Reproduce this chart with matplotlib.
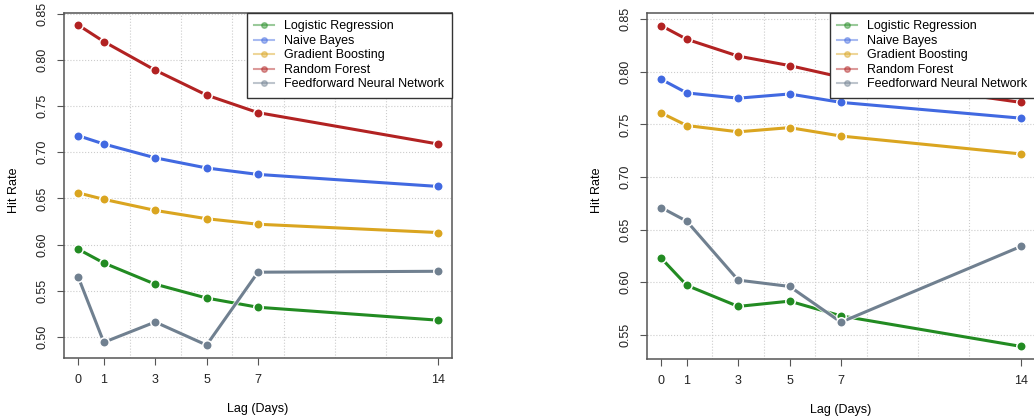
import numpy as np
import matplotlib.pyplot as plt
import matplotlib.patheffects as pe
from matplotlib.ticker import FixedLocator

plt.rcParams['font.family'] = ['Liberation Sans', 'DejaVu Sans']

# lags en dias
lags = [0, 1, 3, 5, 7, 14]

modelos = ["Logistic Regression", "Naive Bayes", "Gradient Boosting",
           "Random Forest", "Feedforward Neural Network"]
colores = ["#228B22", "#4169E1", "#DAA520", "#B22222", "#708090"]

# panel izquierdo
lr_izq = [0.595, 0.580, 0.557, 0.542, 0.532, 0.518]
nb_izq = [0.718, 0.709, 0.694, 0.683, 0.676, 0.663]
gb_izq = [0.656, 0.649, 0.637, 0.628, 0.622, 0.613]
rf_izq = [0.838, 0.820, 0.789, 0.762, 0.743, 0.709]
fnn_izq = [0.565, 0.494, 0.516, 0.491, 0.570, 0.571]

# panel derecho
lr_der = [0.623, 0.597, 0.577, 0.582, 0.568, 0.539]
nb_der = [0.793, 0.780, 0.775, 0.779, 0.771, 0.756]
gb_der = [0.761, 0.749, 0.743, 0.747, 0.739, 0.722]
rf_der = [0.844, 0.831, 0.815, 0.806, 0.795, 0.771]
fnn_der = [0.671, 0.658, 0.602, 0.596, 0.562, 0.634]

gris = "#555555"


def panel(ax, series, ylim, yticks):
    for nombre, y, c in zip(modelos, series, colores):
        ax.plot(lags, y, "-", color=c, lw=2.2, zorder=3,
                path_effects=[pe.Stroke(linewidth=3.6, foreground="white", alpha=0.8), pe.Normal()])
        ax.plot(lags, y, "o", color=c, ms=6.8, mec="white", mew=1.1, zorder=4)
        # entrada de leyenda
        ax.plot([], [], "-", color=c, alpha=0.45, lw=1.5, marker="o", ms=4,
                mfc=c, mec=c, label=nombre)
    ax.set_xlim(-0.55, 14.55)
    ax.set_ylim(*ylim)
    ax.set_xticks(lags)
    ax.xaxis.set_minor_locator(FixedLocator(np.arange(0, 15, 2)))
    ax.set_yticks(yticks)
    ax.set_yticklabels(["%.2f" % v for v in yticks], rotation=90, va="center")
    ax.tick_params(which="major", direction="out", length=5, color=gris,
                   labelcolor="#222222", labelsize=9)
    ax.tick_params(axis="x", pad=6.5)
    ax.tick_params(axis="y", pad=6)
    ax.tick_params(which="minor", length=0)
    ax.grid(True, which="minor", axis="x", ls=":", color="#cccccc", lw=0.8)
    ax.grid(True, which="major", axis="y", ls=":", color="#cccccc", lw=0.8)
    ax.grid(False, which="major", axis="x")
    for s in ax.spines.values():
        s.set_color(gris)
        s.set_linewidth(1.1)
    ax.set_xlabel("Lag (Days)", fontsize=9, labelpad=12)
    ax.set_ylabel("Hit Rate", fontsize=9, labelpad=12, y=0.487)
    leg = ax.legend(loc="upper right", borderaxespad=0, fontsize=9,
                    fancybox=False, framealpha=1, handlelength=1.6,
                    labelspacing=0.2, borderpad=0.6, handletextpad=0.8)
    leg.get_frame().set_edgecolor("#333333")
    leg.get_frame().set_linewidth(1.0)
    leg.set_zorder(10)


fig = plt.figure(figsize=(10.34, 4.19), dpi=100)
ax1 = fig.add_axes([0.0619, 0.1456, 0.3752, 0.8234])
ax2 = fig.add_axes([0.6257, 0.1432, 0.3752, 0.8258])

panel(ax1, [lr_izq, nb_izq, gb_izq, rf_izq, fnn_izq], (0.477, 0.851),
      np.arange(0.50, 0.851, 0.05))
panel(ax2, [lr_der, nb_der, gb_der, rf_der, fnn_der], (0.527, 0.856),
      np.arange(0.55, 0.851, 0.05))

plt.savefig("out.png", dpi=100)
